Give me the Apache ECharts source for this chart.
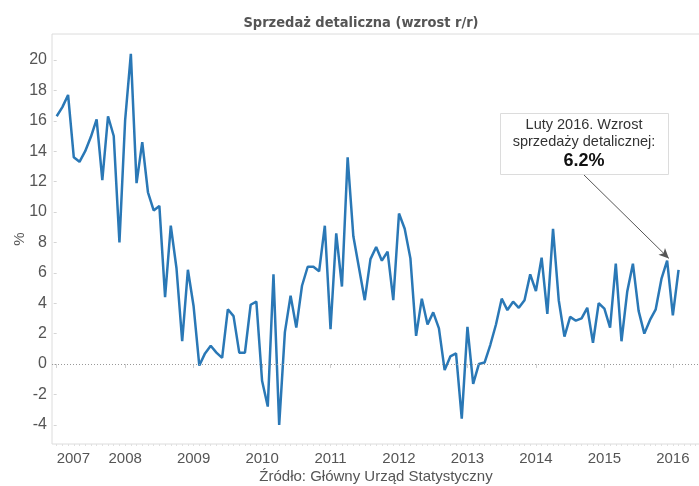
<!DOCTYPE html>
<html>
<head>
<meta charset="utf-8">
<script src="https://cdn.jsdelivr.net/npm/echarts@6/dist/echarts.min.js"></script>
<style>
  html, body { margin: 0; padding: 0; background: #fff; }
  #main { width: 699px; height: 486px; }
</style>
</head>
<body>
<div id="main"></div>
<script>
// lata na osi X (etykieta co 12 miesięcy, od stycznia 2007)
var yearLabels = ['2007', '2008', '2009', '2010', '2011', '2012', '2013', '2014', '2015', '2016'];

// sprzedaż detaliczna r/r w %, miesięcznie od 2007-01 do 2016-02
var sales2007 = [16.3, 16.9, 17.7, 13.6, 13.3, 14.0, 14.95, 16.1, 12.1, 16.3, 15.0, 8.0];
var sales2008 = [16.05, 20.4, 11.9, 14.6, 11.3, 10.1, 10.4, 4.4, 9.1, 6.3, 1.5, 6.2];
var sales2009 = [3.8, -0.1, 0.7, 1.2, 0.75, 0.4, 3.6, 3.15, 0.75, 0.75, 3.9, 4.1];
var sales2010 = [-1.1, -2.8, 5.9, -4.0, 2.1, 4.5, 2.4, 5.15, 6.4, 6.4, 6.1, 9.1];
var sales2011 = [2.3, 8.6, 5.1, 13.6, 8.4, 6.3, 4.2, 6.9, 7.7, 6.8, 7.4, 4.2];
var sales2012 = [9.9, 8.9, 6.95, 1.85, 4.3, 2.6, 3.4, 2.35, -0.4, 0.5, 0.7, -3.6];
var sales2013 = [2.45, -1.3, 0.0, 0.1, 1.25, 2.6, 4.3, 3.55, 4.1, 3.7, 4.2, 5.9];
var sales2014 = [4.8, 7.0, 3.3, 8.9, 4.2, 1.8, 3.1, 2.85, 3.0, 3.7, 1.4, 4.0];
var sales2015 = [3.65, 2.4, 6.6, 1.5, 4.75, 6.6, 3.5, 2.0, 2.9, 3.6, 5.6, 6.8];
var sales2016 = [3.2, 6.2];

// podziałka osi Y
var yTicks = [-4, -2, 0, 2, 4, 6, 8, 10, 12, 14, 16, 18, 20];

var values = [].concat(sales2007, sales2008, sales2009, sales2010, sales2011,
  sales2012, sales2013, sales2014, sales2015, sales2016);

// punkt [indeks miesiąca, wartość]
var seriesData = values.map(function (v, i) { return [i, v]; });

var yearTicks = yearLabels.map(function (y, k) { return k * 12; });
var monthTicks = [];
for (var m = 0; m <= 112; m++) { monthTicks.push(m); }

var textColor = '#555';
var font = '"Liberation Sans", Arial, sans-serif';

var myChart = echarts.init(document.getElementById('main'));
var option = {
  animation: false,
  title: {
    text: 'Sprzedaż detaliczna (wzrost r/r)',
    left: 356,
    textAlign: 'center',
    top: 11,
    textStyle: {
      fontFamily: '"DejaVu Sans Condensed", "DejaVu Sans", sans-serif',
      fontWeight: 'bold',
      fontSize: 14.5,
      color: textColor
    }
  },
  grid: {
    left: 52,
    top: 34,
    right: -1,
    bottom: 42,
    outerBoundsMode: 'none',
    containLabel: false,
    show: true,
    borderColor: '#dcdcdc',
    borderWidth: 1
  },
  xAxis: [
    {
      type: 'value',
      min: -0.82,
      max: 112.76,
      name: 'Źródło: Główny Urząd Statystyczny',
      nameLocation: 'middle',
      nameGap: 25,
      nameMoveOverlap: false,
      nameTextStyle: { fontFamily: font, fontSize: 15, color: textColor },
      axisLine: { show: false },
      splitLine: { show: false },
      axisTick: {
        show: true,
        customValues: yearTicks,
        length: 4,
        lineStyle: { color: '#cfcfcf' }
      },
      axisLabel: {
        customValues: yearTicks,
        margin: 7,
        alignMinLabel: 'left',
        fontFamily: font,
        fontSize: 15,
        color: textColor,
        formatter: function (v) { return yearLabels[Math.round(v / 12)]; }
      }
    },
    {
      type: 'value',
      min: -0.82,
      max: 112.76,
      position: 'bottom',
      axisLine: { show: false },
      splitLine: { show: false },
      axisLabel: { show: false },
      axisTick: {
        show: true,
        customValues: monthTicks,
        length: 2,
        lineStyle: { color: '#e0e0e0' }
      }
    }
  ],
  yAxis: {
    type: 'value',
    min: -5.26,
    max: 21.71,
    name: '%',
    nameLocation: 'middle',
    nameRotate: 90,
    nameGap: 25,
    nameMoveOverlap: false,
    nameTextStyle: { fontFamily: font, fontSize: 15, color: textColor },
    axisLine: { show: false },
    splitLine: { show: false },
    axisTick: {
      show: true,
      customValues: yTicks,
      length: 3,
      lineStyle: { color: '#d5d5d5' }
    },
    axisLabel: {
      customValues: yTicks,
      margin: 5,
      fontFamily: font,
      fontSize: 16,
      color: textColor
    }
  },
  series: [
    {
      type: 'line',
      data: seriesData,
      showSymbol: false,
      symbol: 'none',
      lineStyle: { color: '#2a78b6', width: 2.5 },
      itemStyle: { color: '#2a78b6' },
      silent: true,
      markLine: {
        silent: true,
        symbol: ['none', 'none'],
        label: { show: false },
        data: [
          { yAxis: 0, lineStyle: { type: [1, 2], color: '#999', width: 1 } },
          [
            { x: 583, y: 174, symbol: 'none', lineStyle: { type: 'solid', color: '#555', width: 1 } },
            { coord: [107.3, 6.95], symbol: 'arrow', symbolSize: [7, 10] }
          ]
        ]
      },
      z: 3
    }
  ],
  graphic: [
    {
      type: 'rect',
      left: 500,
      top: 113,
      shape: { width: 168, height: 61 },
      style: { fill: '#fff', stroke: '#dcdcdc', lineWidth: 1 },
      z: 10
    },
    {
      type: 'text',
      x: 584,
      y: 125,
      style: {
        text: 'Luty 2016. Wzrost',
        align: 'center',
        verticalAlign: 'middle',
        font: '14.5px "Liberation Sans", Arial, sans-serif',
        fill: '#333'
      },
      z: 11
    },
    {
      type: 'text',
      x: 584,
      y: 142,
      style: {
        text: 'sprzedaży detalicznej:',
        align: 'center',
        verticalAlign: 'middle',
        font: '14.5px "Liberation Sans", Arial, sans-serif',
        fill: '#333'
      },
      z: 11
    },
    {
      type: 'text',
      x: 584,
      y: 161,
      style: {
        text: '6.2%',
        align: 'center',
        verticalAlign: 'middle',
        font: 'bold 18px "Liberation Sans", Arial, sans-serif',
        fill: '#111'
      },
      z: 11
    }
  ]
};
myChart.setOption(option);
</script>
</body>
</html>
